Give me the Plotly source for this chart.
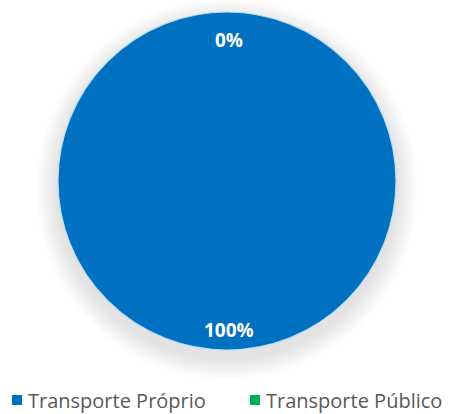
import plotly.graph_objects as go

# Transport mode share
categories = ["Transporte Próprio", "Transporte Público"]
values = [100, 0]
colors = ["#0070C0", "#00B050"]

W, H = 458, 414
cx, cy, r = 227, 181, 169  # pie centre / radius in pixels

def px_to_paper(x, y):
    return x / W, 1 - y / H

x0, y1 = px_to_paper(cx - r, cy - r)
x1, y0 = px_to_paper(cx + r, cy + r)

fig = go.Figure(
    go.Pie(
        labels=categories,
        values=values,
        marker=dict(colors=colors, line=dict(width=0)),
        textinfo="none",
        sort=False,
        direction="clockwise",
        rotation=0,
        domain=dict(x=[x0, x1], y=[y0, y1]),
        hoverinfo="label+percent",
        showlegend=False,
    )
)

# Soft drop shadow around the pie
shapes = []
n = 14
for i in range(n):
    grow = 22 - i * 1.5
    gx0, gy1 = px_to_paper(cx - r - grow, cy - r - grow + 8)
    gx1, gy0 = px_to_paper(cx + r + grow, cy + r + grow + 8)
    shapes.append(dict(type="circle", xref="paper", yref="paper",
                       x0=gx0, x1=gx1, y0=gy0, y1=gy1,
                       fillcolor="rgba(0,0,0,0.008)", line=dict(width=0),
                       layer="below"))

# Light rim around the pie
shapes.append(dict(type="circle", xref="paper", yref="paper",
                   x0=x0, x1=x1, y0=y0, y1=y1,
                   line=dict(width=1.2, color="rgba(190,225,250,0.9)"),
                   layer="above"))

# Percentage labels for each slice
total = sum(values)
label_pos = [(229, 330), (229, 40)]
annotations = []
for v, (lx, ly) in zip(values, label_pos):
    ax, ay = px_to_paper(lx, ly)
    annotations.append(dict(
        x=ax, y=ay, xref="paper", yref="paper",
        xanchor="center", yanchor="middle",
        text=f"<b>{round(100 * v / total)}%</b>",
        showarrow=False,
        font=dict(family="Open Sans, Arial", size=19, color="white"),
    ))

# Legend entries: coloured square followed by category name
legend_sq_x = [12, 250]
legend_y = 400
for name, col, sx in zip(categories, colors, legend_sq_x):
    qx0, qy1 = px_to_paper(sx, legend_y - 5)
    qx1, qy0 = px_to_paper(sx + 10, legend_y + 5)
    shapes.append(dict(type="rect", xref="paper", yref="paper",
                       x0=qx0, x1=qx1, y0=qy0, y1=qy1,
                       fillcolor=col, line=dict(width=0)))
    ax, ay = px_to_paper(sx + 15, legend_y)
    annotations.append(dict(
        x=ax, y=ay, xref="paper", yref="paper",
        xanchor="left", yanchor="middle",
        text=name, borderpad=0,
        showarrow=False,
        font=dict(family="Open Sans, Arial", size=20, color="#595959"),
    ))

fig.update_layout(
    width=W, height=H,
    margin=dict(l=0, r=0, t=0, b=0),
    paper_bgcolor="white",
    plot_bgcolor="white",
    shapes=shapes,
    annotations=annotations,
    showlegend=False,
)

fig.write_html("out.html")
